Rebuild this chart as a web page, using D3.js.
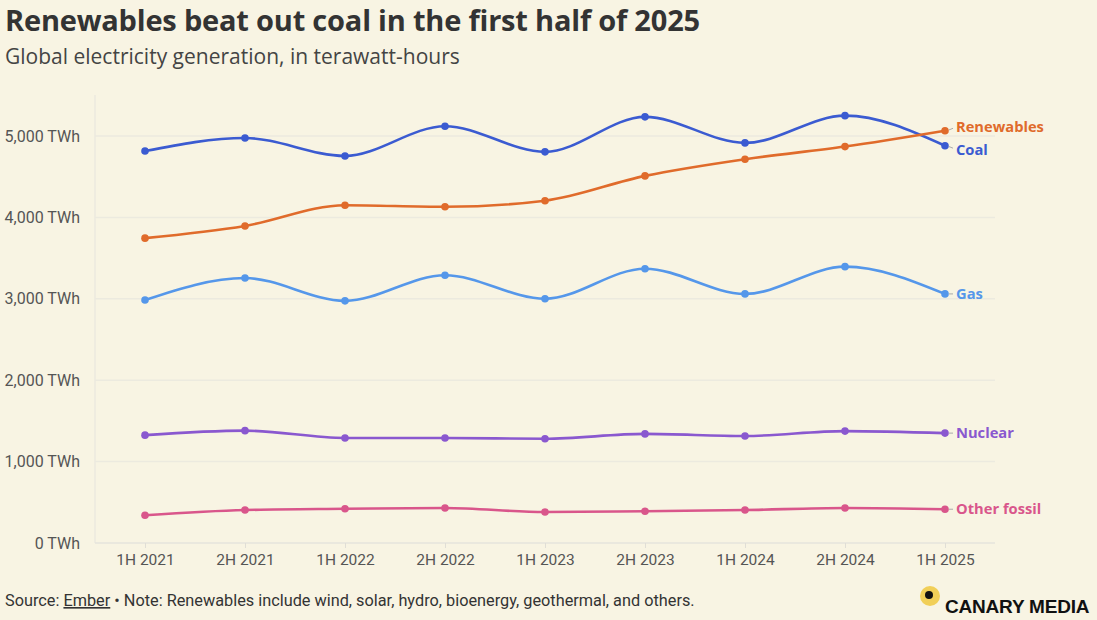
<!DOCTYPE html>
<html>
<head>
<meta charset="utf-8">
<script src="https://cdn.jsdelivr.net/npm/d3@7"></script>
<style>
  body { margin: 0; background: #f8f4e3; }
  svg { display: block; }
  .tick text { font-family: "Roboto", sans-serif; fill: #555; }
</style>
</head>
<body>
<svg id="chart" width="1097" height="620"></svg>
<script>
'use strict';

// half-year periods
var periods = ["1H 2021", "2H 2021", "1H 2022", "2H 2022", "1H 2023", "2H 2023", "1H 2024", "2H 2024", "1H 2025"];

// TWh per half-year
var coal       = [4815, 4975, 4755, 5120, 4805, 5235, 4915, 5250, 4880];
var renewables = [3745, 3895, 4150, 4130, 4205, 4510, 4715, 4870, 5065];
var gas        = [2985, 3255, 2975, 3290, 3000, 3370, 3060, 3395, 3060];
var nuclear    = [1325, 1380, 1290, 1290, 1280, 1340, 1315, 1375, 1350];
var otherFossil = [340, 405, 420, 430, 380, 390, 405, 430, 415];

var yTicks = [0, 1000, 2000, 3000, 4000, 5000];

var series = [
  { name: "Coal", values: coal, color: "#3b5bd1", labelDy: 4 },
  { name: "Renewables", values: renewables, color: "#e06b2b", labelDy: -4 },
  { name: "Gas", values: gas, color: "#5597ea", labelDy: 0 },
  { name: "Nuclear", values: nuclear, color: "#8a58cf", labelDy: 0 },
  { name: "Other fossil", values: otherFossil, color: "#d9568b", labelDy: 0 }
];

(function draw(){
  var svg = d3.select("#chart");

  // titles
  svg.append("text")
    .attr("x", 5).attr("y", 31)
    .style("font-family", "'Open Sans', sans-serif").style("font-weight", 700)
    .style("font-size", "29px").style("fill", "#333").style("letter-spacing", "-0.2px")
    .text("Renewables beat out coal in the first half of 2025");

  svg.append("text")
    .attr("x", 5).attr("y", 64)
    .style("font-family", "'Open Sans', sans-serif").style("font-weight", 400)
    .style("font-size", "21px").style("fill", "#444")
    .text("Global electricity generation, in terawatt-hours");

  var left = 95, right = 995, plotTop = 95, bottom = 543;

  var x = d3.scalePoint().domain(periods).range([145, 945]);
  var y = d3.scaleLinear().domain([0, 5000]).range([bottom, 136]);

  // grid
  svg.append("g").selectAll("line").data(yTicks.slice(1)).enter().append("line")
    .attr("x1", left).attr("x2", right)
    .attr("y1", function(d){ return y(d); }).attr("y2", function(d){ return y(d); })
    .attr("stroke", "#eceadf").attr("stroke-width", 1.5);

  svg.append("line")
    .attr("x1", left).attr("x2", left).attr("y1", plotTop).attr("y2", bottom)
    .attr("stroke", "#eceadf").attr("stroke-width", 1.5);

  // y axis
  var yAxis = svg.append("g")
    .attr("transform", "translate(" + (left - 12) + ",0)")
    .call(d3.axisLeft(y).tickValues(yTicks).tickSize(0)
      .tickFormat(function(d){ return d3.format(",")(d) + " TWh"; }));
  yAxis.select(".domain").remove();
  yAxis.selectAll("text").style("font-size", "16px");

  // x axis
  var xAxis = svg.append("g")
    .attr("transform", "translate(0," + bottom + ")")
    .call(d3.axisBottom(x).tickSize(5).tickPadding(6));
  xAxis.select(".domain").attr("d", "M" + left + ",0H" + right).attr("stroke", "#e6e4dc").attr("stroke-width", 1.5);
  xAxis.selectAll(".tick line").attr("stroke", "#e0ded6");
  xAxis.selectAll("text").style("font-size", "15.5px");

  var line = d3.line()
    .x(function(d, i){ return x(periods[i]); })
    .y(function(d){ return y(d); })
    .curve(d3.curveMonotoneX);

  var g = svg.append("g");

  series.forEach(function(s){
    g.append("path")
      .datum(s.values)
      .attr("d", line)
      .attr("fill", "none")
      .attr("stroke", s.color)
      .attr("stroke-width", 2.6);

    g.selectAll(null).data(s.values).enter().append("circle")
      .attr("cx", function(d, i){ return x(periods[i]); })
      .attr("cy", function(d){ return y(d); })
      .attr("r", 3.8)
      .attr("fill", s.color);

    var last = s.values[s.values.length - 1];
    var lx = x(periods[periods.length - 1]);
    var ly = y(last);

    // little connector to the label
    g.append("line")
      .attr("x1", lx + 4).attr("y1", ly + s.labelDy * 0.2)
      .attr("x2", lx + 8).attr("y2", ly + s.labelDy * 0.6)
      .attr("stroke", "#aaa").attr("stroke-width", 1);

    g.append("text")
      .attr("x", lx + 11).attr("y", ly + s.labelDy)
      .attr("dy", "0.35em")
      .style("font-family", "'Open Sans', sans-serif").style("font-weight", 700)
      .style("font-size", "14.7px").style("fill", s.color)
      .text(s.name);
  });

  // footer
  var foot = svg.append("text")
    .attr("x", 5).attr("y", 606)
    .style("font-family", "Roboto, sans-serif").style("font-size", "16.3px").style("fill", "#333");
  foot.append("tspan").text("Source: ");
  foot.append("tspan").style("text-decoration", "underline").text("Ember");
  foot.append("tspan").text(" \u2022 Note: Renewables include wind, solar, hydro, bioenergy, geothermal, and others.");

  // logo
  svg.append("circle").attr("cx", 930).attr("cy", 596).attr("r", 10).attr("fill", "#f1cf58");
  svg.append("circle").attr("cx", 929).attr("cy", 595).attr("r", 4).attr("fill", "#111");
  svg.append("text")
    .attr("x", 945).attr("y", 613)
    .style("font-family", "'Liberation Sans', Arial, sans-serif").style("font-weight", 700)
    .style("font-size", "19px").style("letter-spacing", "-0.2px").style("fill", "#111")
    .text("CANARY MEDIA");
})();
</script>
</body>
</html>
